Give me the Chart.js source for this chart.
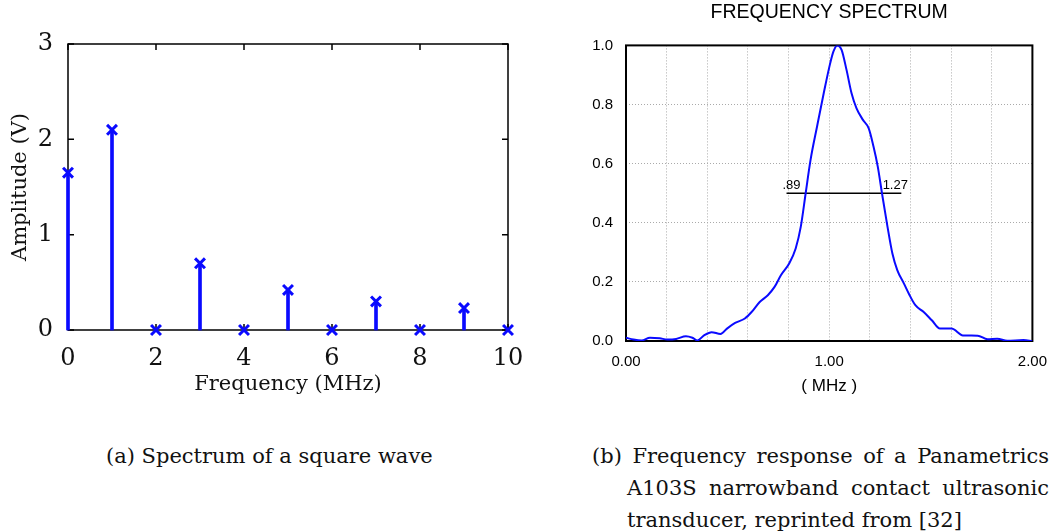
<!DOCTYPE html>
<html>
<head>
<meta charset="utf-8">
<script src="https://cdn.jsdelivr.net/npm/chart.js@4.4.1/dist/chart.umd.min.js"></script>
<style>
    html, body { margin: 0; padding: 0; background: #fff; overflow: hidden; }
    body { width: 1059px; height: 532px; position: relative; }
    canvas { position: absolute; }
    #chartA { left: 0; top: 0; }
    #chartB { left: 580px; top: 0; }
    .cap { position: absolute; font-family: 'DejaVu Serif', serif; font-size: 21px; color: #111; white-space: nowrap; line-height: 1; }
    .just { text-align: justify; text-align-last: justify; white-space: normal; }
</style>
</head>
<body>
<canvas id="chartA" width="545" height="410"></canvas>
<canvas id="chartB" width="479" height="410"></canvas>

<div class="cap" style="left:106px; top:446px;">(a) Spectrum of a square wave</div>
<div class="cap just" style="left:592px; top:446px; width:457px;">(b) Frequency response of a Panametrics</div>
<div class="cap just" style="left:627px; top:478px; width:422px;">A103S narrowband contact ultrasonic</div>
<div class="cap" style="left:627px; top:510px;">transducer, reprinted from [32]</div>

<script>
// (a) спектр меандру
const harmonicFreq = [0, 1, 2, 3, 4, 5, 6, 7, 8, 9, 10];
const harmonicAmp = [1.65, 2.1, 0, 0.7, 0, 0.42, 0, 0.3, 0, 0.23, 0];

// (b) частотна характеристика датчика
const respFreq = [0, 0.037, 0.077, 0.118, 0.166, 0.203, 0.247, 0.295, 0.327, 0.352, 0.384, 0.421,
    0.465, 0.497, 0.537, 0.585, 0.618, 0.658, 0.698, 0.731, 0.763, 0.803, 0.835, 0.86, 0.884,
    0.908, 0.94, 0.973, 1.005, 1.021, 1.04, 1.061, 1.085, 1.11, 1.134, 1.166, 1.194, 1.218,
    1.239, 1.26, 1.287, 1.311, 1.335, 1.368, 1.392, 1.424, 1.465, 1.505, 1.545, 1.602, 1.658,
    1.731, 1.779, 1.827, 1.876, 1.956, 2.0];
const respAmp = [0.011, 0.005, 0.002, 0.011, 0.009, 0.005, 0.007, 0.016, 0.011, 0.002, 0.019, 0.03,
    0.024, 0.042, 0.061, 0.076, 0.098, 0.132, 0.155, 0.183, 0.223, 0.262, 0.313, 0.386, 0.499,
    0.612, 0.725, 0.838, 0.94, 0.98, 1.0, 0.985, 0.918, 0.838, 0.788, 0.748, 0.72, 0.658,
    0.59, 0.499, 0.386, 0.296, 0.24, 0.194, 0.16, 0.121, 0.098, 0.07, 0.042, 0.042, 0.019,
    0.018, 0.006, 0.008, 0.001, 0.003, 0.0];

// лінія рівня 0.5 та підписи
const bandLevel = 0.5;
const bandFreq = [0.79, 1.355];
const bandLabels = ['.89', '1.27'];
const bandLabelFreq = [0.77, 1.263];

const BLUE = '#0a0aff';
const SERIF = "'DejaVu Serif', serif";
const SANS = "'Liberation Sans', Arial, sans-serif";

// Рамка та внутрішні риски (як у matlab)
const boxTicks = {
    id: 'boxTicks',
    beforeDatasetsDraw(chart) {
        const { ctx, chartArea: a, scales } = chart;
        ctx.save();
        ctx.strokeStyle = '#000';
        ctx.lineWidth = 1.5;
        ctx.strokeRect(a.left, a.top, a.right - a.left, a.bottom - a.top);
        const len = 6;
        ctx.beginPath();
        scales.x.ticks.forEach(t => {
            const px = scales.x.getPixelForValue(t.value);
            ctx.moveTo(px, a.bottom); ctx.lineTo(px, a.bottom - len);
            ctx.moveTo(px, a.top); ctx.lineTo(px, a.top + len);
        });
        scales.y.ticks.forEach(t => {
            const py = scales.y.getPixelForValue(t.value);
            ctx.moveTo(a.left, py); ctx.lineTo(a.left + len, py);
            ctx.moveTo(a.right, py); ctx.lineTo(a.right - len, py);
        });
        ctx.stroke();
        ctx.restore();
    }
};

new Chart(document.getElementById('chartA'), {
    type: 'scatter',
    data: {
        datasets: [
            {
                type: 'scatter',
                data: harmonicFreq.map((f, i) => ({ x: f, y: harmonicAmp[i] })),
                pointStyle: 'crossRot',
                pointRadius: 7,
                borderColor: BLUE,
                borderWidth: 3,
                clip: false,
                order: 0
            },
            {
                type: 'bar',
                data: harmonicFreq.map((f, i) => ({ x: f, y: harmonicAmp[i] })),
                backgroundColor: BLUE,
                barThickness: 3,
                grouped: false,
                clip: false,
                order: 1
            }
        ]
    },
    plugins: [boxTicks],
    options: {
        responsive: false,
        devicePixelRatio: 1,
        animation: false,
        layout: { padding: { top: 44, right: 37, left: 0, bottom: 0 } },
        plugins: { legend: { display: false }, tooltip: { enabled: false } },
        scales: {
            x: {
                type: 'linear',
                min: 0, max: 10,
                offset: false,
                afterFit: s => { s.height = 80; },
                grid: { display: false, offset: false },
                border: { display: false },
                ticks: { stepSize: 2, color: '#111', padding: 6, font: { family: SERIF, size: 24 } },
                title: { display: true, text: 'Frequency (MHz)', color: '#111', padding: { bottom: 13 }, font: { family: SERIF, size: 21 } }
            },
            y: {
                min: 0, max: 3,
                afterFit: s => { s.width = 68; },
                grid: { display: false },
                border: { display: false },
                ticks: { stepSize: 1, color: '#111', padding: 7, font: { family: SERIF, size: 24 } },
                title: { display: true, text: 'Amplitude (V)', color: '#111', padding: { top: 8 }, font: { family: SERIF, size: 21 } }
            }
        }
    }
});

// Рамка графіка (b) і підписи смуги
const frameAndLabels = {
    id: 'frameAndLabels',
    beforeDatasetsDraw(chart) {
        const { ctx, chartArea: a } = chart;
        ctx.save();
        ctx.strokeStyle = '#000';
        ctx.lineWidth = 2;
        ctx.strokeRect(a.left, a.top, a.right - a.left, a.bottom - a.top);
        ctx.restore();
    },
    afterDatasetsDraw(chart) {
        const { ctx, scales } = chart;
        ctx.save();
        ctx.fillStyle = '#000';
        ctx.font = '13px ' + SANS;
        ctx.textBaseline = 'alphabetic';
        bandLabels.forEach((t, i) => {
            ctx.fillText(t, scales.x.getPixelForValue(bandLabelFreq[i]), scales.y.getPixelForValue(bandLevel) - 4);
        });
        ctx.restore();
    }
};

new Chart(document.getElementById('chartB'), {
    type: 'line',
    data: {
        datasets: [
            {
                data: respFreq.map((f, i) => ({ x: f, y: respAmp[i] })),
                borderColor: BLUE,
                borderWidth: 2,
                pointRadius: 0,
                cubicInterpolationMode: 'monotone',
                order: 0
            },
            {
                data: bandFreq.map(f => ({ x: f, y: bandLevel })),
                borderColor: '#000',
                borderWidth: 1.5,
                pointRadius: 0,
                order: 1
            }
        ]
    },
    plugins: [frameAndLabels],
    options: {
        responsive: false,
        devicePixelRatio: 1,
        animation: false,
        layout: { padding: { top: 0, right: 20, left: 0, bottom: 0 } },
        plugins: {
            legend: { display: false },
            tooltip: { enabled: false },
            title: {
                display: true,
                fullSize: false,
                text: 'FREQUENCY SPECTRUM',
                color: '#000',
                font: { family: SANS, size: 19.5, weight: 'normal' },
                padding: { top: 1, bottom: 21 }
            }
        },
        scales: {
            x: {
                type: 'linear',
                min: 0, max: 2,
                afterFit: s => { s.height = 69; },
                grid: { color: '#aaa', borderDash: [1, 2], drawTicks: false },
                border: { display: false, dash: [1, 2] },
                ticks: {
                    stepSize: 0.2, autoSkip: false, color: '#000', padding: 12,
                    font: { family: SANS, size: 15 },
                    callback: v => Math.abs(v - Math.round(v)) < 1e-6 ? v.toFixed(2) : ''
                },
                title: { display: true, text: '( MHz )', color: '#000', padding: { bottom: 13 }, font: { family: SANS, size: 17 } }
            },
            y: {
                min: 0, max: 1,
                afterFit: s => { s.width = 46; },
                grid: { color: '#aaa', borderDash: [1, 2], drawTicks: false },
                border: { display: false, dash: [1, 2] },
                ticks: {
                    stepSize: 0.2, color: '#000', padding: 13,
                    font: { family: SANS, size: 15 },
                    callback: v => v.toFixed(1)
                }
            }
        }
    }
});
</script>
</body>
</html>
